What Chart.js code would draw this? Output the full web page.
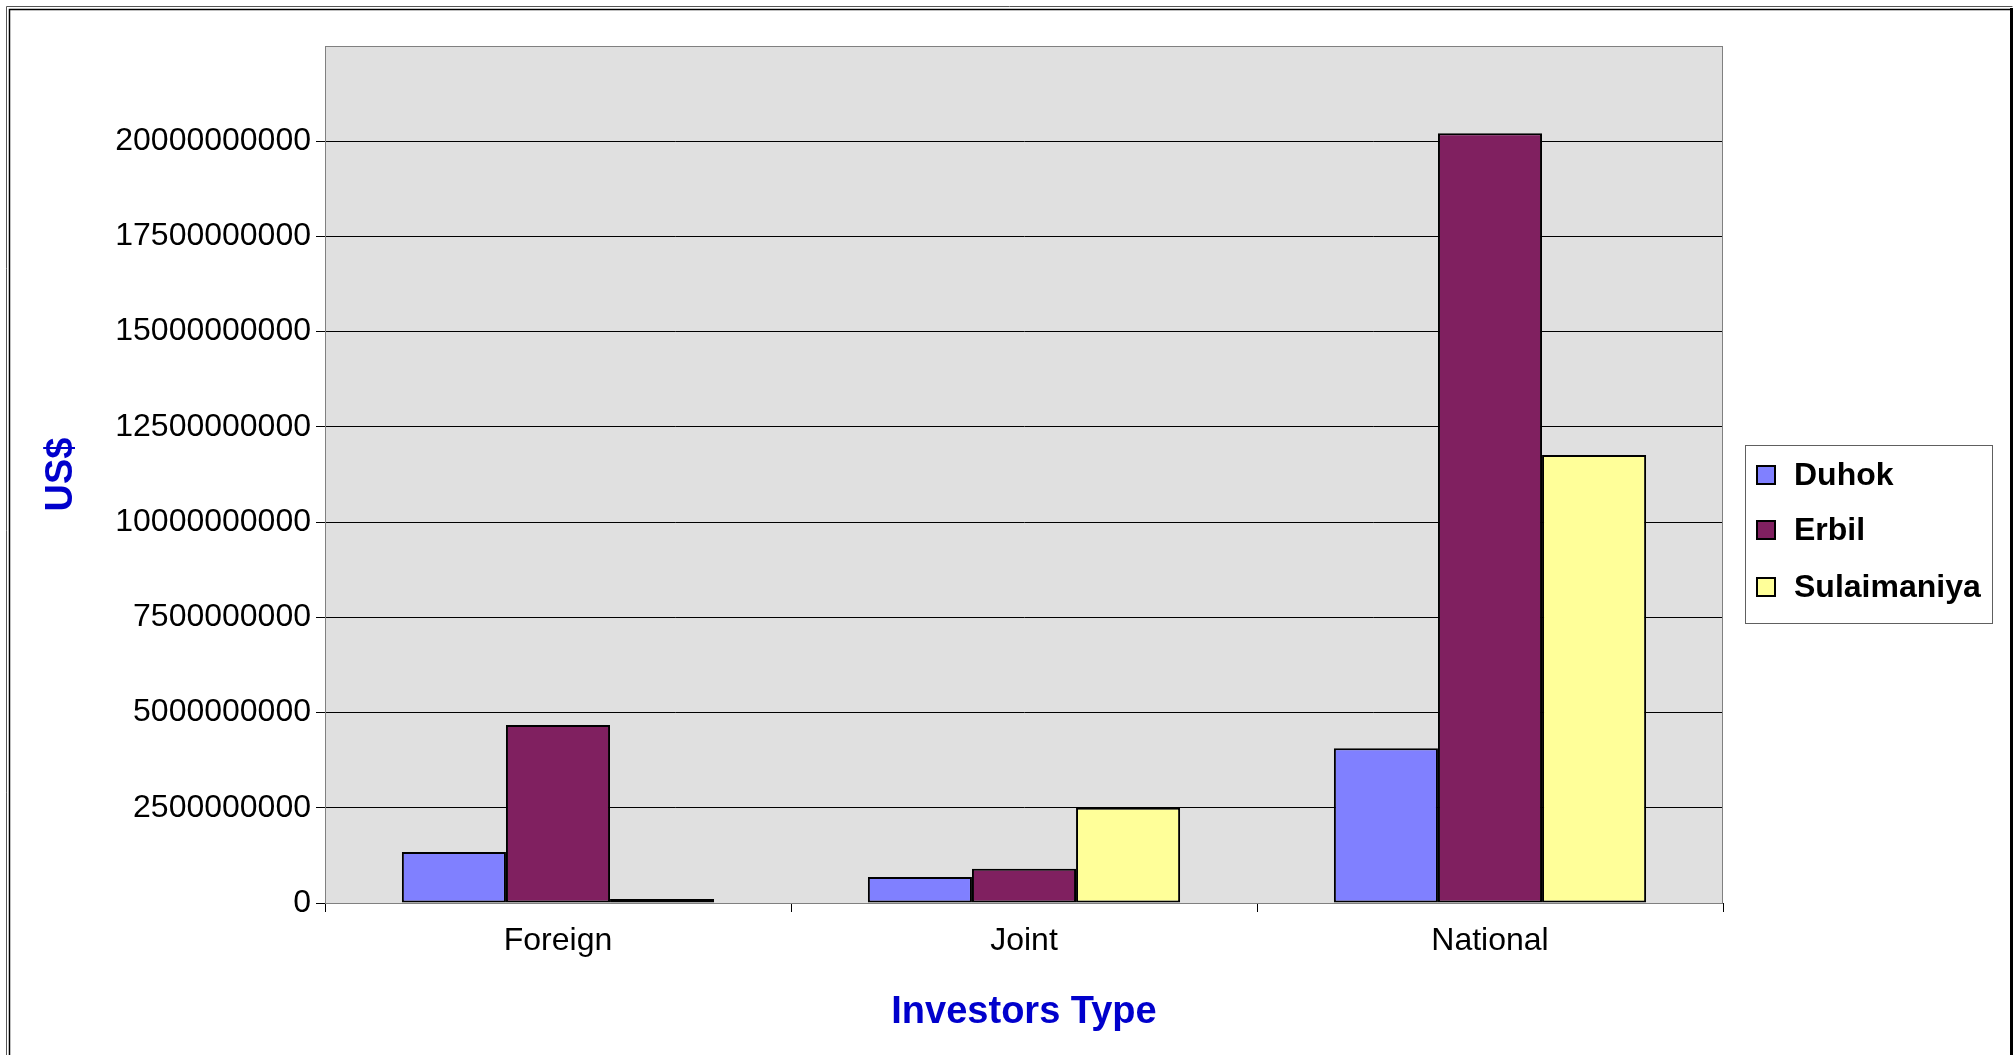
<!DOCTYPE html>
<html>
<head>
<meta charset="utf-8">
<script src="https://cdn.jsdelivr.net/npm/chart.js@4/dist/chart.umd.min.js"></script>
<style>
  html, body { margin: 0; padding: 0; background: #fff; }
  #wrap { width: 2015px; height: 1055px; position: relative; }
</style>
</head>
<body>
<div id="wrap"><canvas id="grafico"></canvas></div>
<script>
// datos
var tipos = ["Foreign", "Joint", "National"];
var duhok = [1340000000, 680000000, 4060000000];
var erbil = [4670000000, 900000000, 20210000000];
var sulaimaniya = [50000000, 2500000000, 11760000000];
var nombres = ["Duhok", "Erbil", "Sulaimaniya"];
var colores = ["#8080FF", "#802060", "#FFFF99"];

var fuente = "'Liberation Sans', Arial, sans-serif";

// fondo gris del area y marco exterior
var fondo = {
    id: "fondo",
    beforeDraw: function (chart) {
        var c = chart.ctx, a = chart.chartArea;
        c.save();
        c.fillStyle = "#fff";
        c.fillRect(0, 0, chart.width, chart.height);
        c.fillStyle = "#E0E0E0";
        c.fillRect(a.left, a.top, a.right - a.left, a.bottom - a.top);
        c.restore();
    },
    afterDraw: function (chart) {
        var c = chart.ctx, a = chart.chartArea;
        c.save();
        c.strokeStyle = "#808080";
        c.lineWidth = 1;
        c.strokeRect(a.left + 0.5, a.top + 0.5, a.right - a.left - 1, a.bottom - a.top);
        // marco doble
        c.strokeStyle = "#555";
        c.beginPath();
        c.moveTo(6.5, 1055); c.lineTo(6.5, 6.5); c.lineTo(2012.5, 6.5);
        c.stroke();
        c.strokeStyle = "#000";
        c.lineWidth = 1.5;
        c.beginPath();
        c.moveTo(9.5, 1055); c.lineTo(9.5, 9.5); c.lineTo(2010, 9.5);
        c.stroke();
        c.lineWidth = 3;
        c.beginPath();
        c.moveTo(2011.5, 8); c.lineTo(2011.5, 1055);
        c.stroke();
        // leyenda
        var x0 = 1745, y0 = 445, w = 247, h = 178;
        c.fillStyle = "#fff";
        c.fillRect(x0, y0, w, h);
        c.strokeStyle = "#606060";
        c.lineWidth = 1;
        c.strokeRect(x0 + 0.5, y0 + 0.5, w, h);
        var filas = [475, 530, 587];
        c.font = "bold 32px " + fuente;
        c.textBaseline = "middle";
        chart.data.datasets.forEach(function (ds, i) {
            c.fillStyle = ds.backgroundColor;
            c.fillRect(1757, filas[i] - 9, 18, 18);
            c.strokeStyle = "#000";
            c.lineWidth = 2;
            c.strokeRect(1757, filas[i] - 9, 18, 18);
            c.fillStyle = "#000";
            c.fillText(ds.label, 1794, filas[i] + 1);
        });
        c.restore();
    }
};

var ctx = document.getElementById("grafico").getContext("2d");
var miGrafico = new Chart(ctx, {
    type: "bar",
    data: {
        labels: tipos,
        datasets: [
            { label: nombres[0], data: duhok, backgroundColor: colores[0] },
            { label: nombres[1], data: erbil, backgroundColor: colores[1] },
            { label: nombres[2], data: sulaimaniya, backgroundColor: colores[2] }
        ]
    },
    options: {
        responsive: true,
        maintainAspectRatio: false,
        animation: false,
        devicePixelRatio: 1,
        layout: { padding: { top: 46, right: 292, left: 0, bottom: 0 } },
        datasets: {
            bar: {
                borderColor: "#000",
                borderWidth: 2,
                borderSkipped: false,
                minBarLength: 4,
                categoryPercentage: 0.67,
                barPercentage: 1.0
            }
        },
        plugins: {
            legend: { display: false },
            tooltip: { enabled: false }
        },
        scales: {
            x: {
                grid: {
                    offset: true,
                    drawOnChartArea: false,
                    drawTicks: true,
                    tickLength: 9,
                    color: "#000"
                },
                border: { color: "#000", width: 1 },
                ticks: {
                    color: "#000",
                    font: { family: fuente, size: 32 },
                    padding: 10
                },
                title: {
                    display: true,
                    text: "Investors Type",
                    color: "#0000CC",
                    font: { family: fuente, size: 38, weight: "bold" },
                    padding: { top: 0, bottom: 20 }
                },
                afterFit: function (s) { s.height = 152; }
            },
            y: {
                min: 0,
                max: 22500000000,
                grid: {
                    color: "#000",
                    lineWidth: 1,
                    tickLength: 9,
                    tickColor: function (c) {
                        return c.tick && c.tick.value > 20000000000 ? "rgba(0,0,0,0)" : "#000";
                    }
                },
                border: { color: "#000", width: 1 },
                ticks: {
                    stepSize: 2500000000,
                    color: "#000",
                    padding: 5,
                    font: { family: fuente, size: 32 },
                    callback: function (v) {
                        if (v > 20000000000) return "";
                        return v.toFixed(0);
                    }
                },
                title: {
                    display: true,
                    text: "US$",
                    color: "#0000CC",
                    font: { family: fuente, size: 38, weight: "bold" },
                    padding: { top: 39, bottom: 0 }
                },
                afterFit: function (s) { s.width = 325; }
            }
        }
    },
    plugins: [fondo]
});
</script>
</body>
</html>
